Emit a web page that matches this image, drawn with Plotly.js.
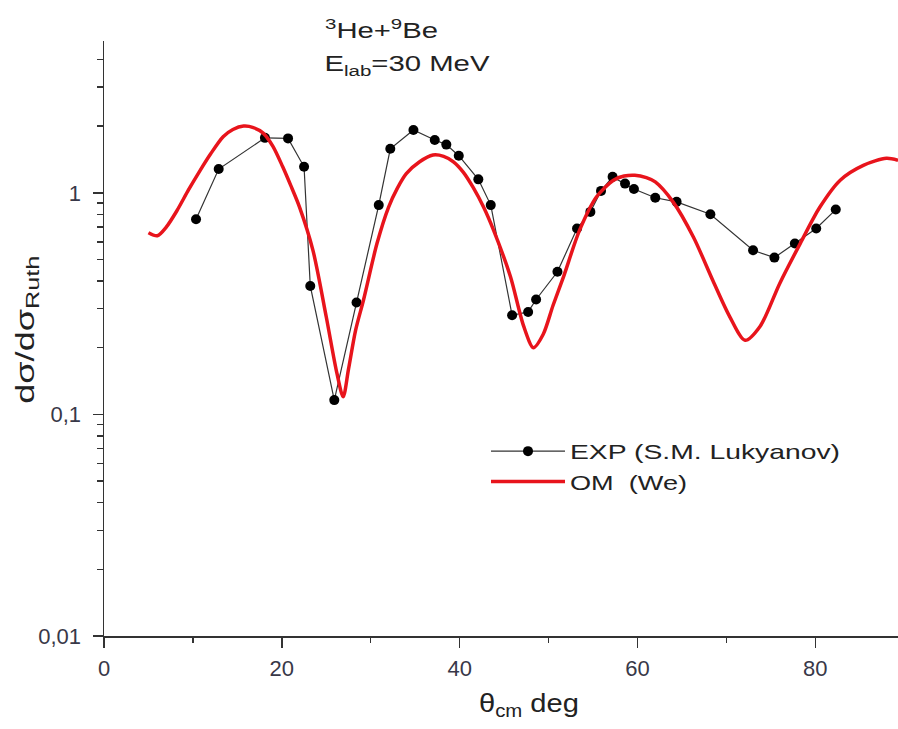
<!DOCTYPE html>
<html>
<head>
<meta charset="utf-8">
<script src="https://cdn.plot.ly/plotly-3.0.1.min.js"></script>
<style>html,body{margin:0;padding:0;background:#fff;}</style>
</head>
<body>
<div id="chart" style="width:898px;height:729px;"></div>
<script>
// Experimental data (S.M. Lukyanov)
const expAngle = [10.35, 12.9, 18.1, 20.7, 22.5, 23.2, 25.9, 28.4, 30.9, 32.2, 34.8, 37.2, 38.5, 39.9, 42.1, 43.5, 45.9, 47.7, 48.6, 51.0, 53.2, 54.7, 55.9, 57.2, 58.6, 59.6, 62.0, 64.4, 68.2, 73.0, 75.4, 77.7, 80.1, 82.3];
const expRatio = [0.76, 1.28, 1.77, 1.76, 1.31, 0.38, 0.116, 0.32, 0.88, 1.58, 1.92, 1.73, 1.65, 1.47, 1.15, 0.88, 0.28, 0.29, 0.33, 0.44, 0.69, 0.82, 1.02, 1.18, 1.10, 1.04, 0.95, 0.91, 0.80, 0.55, 0.51, 0.59, 0.69, 0.84];

// Optical model curve (We)
const omAngle = [5.0, 6.0, 7.0, 8.2, 9.5, 10.8, 12.0, 13.4, 14.5, 15.7, 16.8, 17.9, 19.0, 20.1, 21.0, 22.0, 23.5, 25.0, 26.2, 26.9, 27.5, 28.3, 29.2, 30.7, 32.0, 33.0, 34.0, 35.5, 37.0, 38.2, 39.3, 40.4, 41.5, 42.7, 43.8, 45.7, 47.2, 48.3, 49.4, 50.5, 51.7, 53.5, 55.4, 57.3, 58.5, 59.7, 61.0, 62.0, 64.0, 66.3, 68.5, 70.4, 72.1, 73.8, 76.0, 78.3, 80.5, 82.8, 85.4, 88.0, 89.3];
const omRatio = [0.66, 0.64, 0.70, 0.83, 1.03, 1.26, 1.50, 1.79, 1.93, 2.0, 1.97, 1.86, 1.62, 1.31, 1.08, 0.86, 0.55, 0.275, 0.153, 0.12, 0.16, 0.24, 0.33, 0.59, 0.86, 1.05, 1.22, 1.38, 1.48, 1.46, 1.38, 1.24, 1.06, 0.86, 0.68, 0.42, 0.25, 0.20, 0.23, 0.31, 0.42, 0.68, 0.96, 1.14, 1.19, 1.20, 1.17, 1.12, 0.91, 0.63, 0.40, 0.275, 0.216, 0.25, 0.39, 0.59, 0.86, 1.14, 1.33, 1.43, 1.40];

// Axis ticks
const yTickVals = [0.01, 0.1, 1];
const yTickText = ['0,01', '0,1', '1'];
const yMinorVals = [0.02,0.03,0.04,0.05,0.06,0.07,0.08,0.09,0.2,0.3,0.4,0.5,0.6,0.7,0.8,0.9,2,3,4];

const FONT = 'Liberation Sans, Arial, sans-serif';
const AXC = '#333333';
const TXC = '#383848';

const traces = [
  {
    x: expAngle, y: expRatio, type: 'scatter', mode: 'lines+markers',
    name: 'EXP (S.M. Lukyanov)',
    line: {color: '#333333', width: 1.2},
    marker: {color: '#000000', size: 10, symbol: 'circle'}
  },
  {
    x: omAngle, y: omRatio, type: 'scatter', mode: 'lines',
    name: 'OM  (We)',
    line: {color: '#e8141c', width: 3.5, shape: 'spline', smoothing: 0.8}
  }
];

const plotW = 898 - 104, plotH = 729 - 41 - 93;
function px(xp) { return (xp - 104) / plotW; }
function py(yp) { return (729 - 93 - yp) / plotH; }

const layout = {
  width: 898, height: 729,
  margin: {l: 104, r: 0, t: 41, b: 93},
  paper_bgcolor: '#ffffff', plot_bgcolor: '#ffffff',
  font: {family: FONT, color: TXC},
  showlegend: true,
  legend: {
    x: px(486), y: py(431), xref: 'paper', yref: 'paper', xanchor: 'left', yanchor: 'top',
    font: {family: FONT, size: 21, color: '#222222'},
    bgcolor: 'rgba(0,0,0,0)', tracegroupgap: 0, itemwidth: 74
  },
  xaxis: {
    range: [0, 89.3], showgrid: false, zeroline: false,
    showline: true, linecolor: AXC, linewidth: 1.5,
    ticks: 'outside', ticklen: 10, tickwidth: 1.5, tickcolor: AXC,
    dtick: 20, tick0: 0,
    minor: {ticks: 'outside', dtick: 10, ticklen: 5, tickwidth: 1.5, tickcolor: AXC},
    tickfont: {family: FONT, size: 22, color: TXC},
    ticklabelstandoff: 2
  },
  yaxis: {
    type: 'log', range: [-2, 0.685], showgrid: false, zeroline: false,
    showline: true, linecolor: AXC, linewidth: 1.5,
    ticks: 'outside', ticklen: 10, tickwidth: 1.5, tickcolor: AXC,
    tickmode: 'array', tickvals: yTickVals, ticktext: yTickText,
    minor: {ticks: 'outside', tickmode: 'array', tickvals: yMinorVals, ticklen: 6, tickwidth: 1.5, tickcolor: AXC},
    tickfont: {family: FONT, size: 22, color: TXC},
    ticklabelstandoff: 7
  },
  annotations: [
    {text: '<sup>3</sup>He+<sup>9</sup>Be', xref: 'paper', yref: 'paper', x: px(381), y: py(29), xanchor: 'center', yanchor: 'middle', showarrow: false,
     font: {family: FONT, size: 22, color: '#222222'}},
    {text: 'E<sub>lab</sub>=30 MeV', xref: 'paper', yref: 'paper', x: px(407), y: py(65), xanchor: 'center', yanchor: 'middle', showarrow: false,
     font: {family: FONT, size: 22, color: '#222222'}},
    {text: 'θ<sub>cm</sub> deg', xref: 'paper', yref: 'paper', x: px(529), y: py(705), xanchor: 'center', yanchor: 'middle', showarrow: false,
     font: {family: FONT, size: 25, color: '#222222'}},
    {text: 'dσ/dσ<sub>Ruth</sub>', xref: 'paper', yref: 'paper', x: px(27), y: py(330), xanchor: 'center', yanchor: 'middle', showarrow: false, textangle: -90,
     font: {family: FONT, size: 25, color: '#222222'}}
  ]
};

// target rendered widths of texts (stretched like the reference lettering)
const annWidths = [113, 165, 100, 148];
const legWidths = [270, 117];

function stretch(el, w) {
  if (!el) return;
  el.setAttribute('textLength', w);
  el.setAttribute('lengthAdjust', 'spacingAndGlyphs');
}

Plotly.newPlot('chart', traces, layout, {displayModeBar: false, staticPlot: true}).then(function (gd) {
  const anns = gd.querySelectorAll('.annotation-text');
  anns.forEach(function (el, i) { if (annWidths[i]) stretch(el, annWidths[i]); });
  const legs = gd.querySelectorAll('.legendtext');
  legs.forEach(function (el, i) { if (legWidths[i]) stretch(el, legWidths[i]); });
  gd.querySelectorAll('.legend [clip-path]').forEach(function (el) { el.removeAttribute('clip-path'); });
  gd.querySelectorAll('.annotation [clip-path]').forEach(function (el) { el.removeAttribute('clip-path'); });
});
</script>
</body>
</html>
